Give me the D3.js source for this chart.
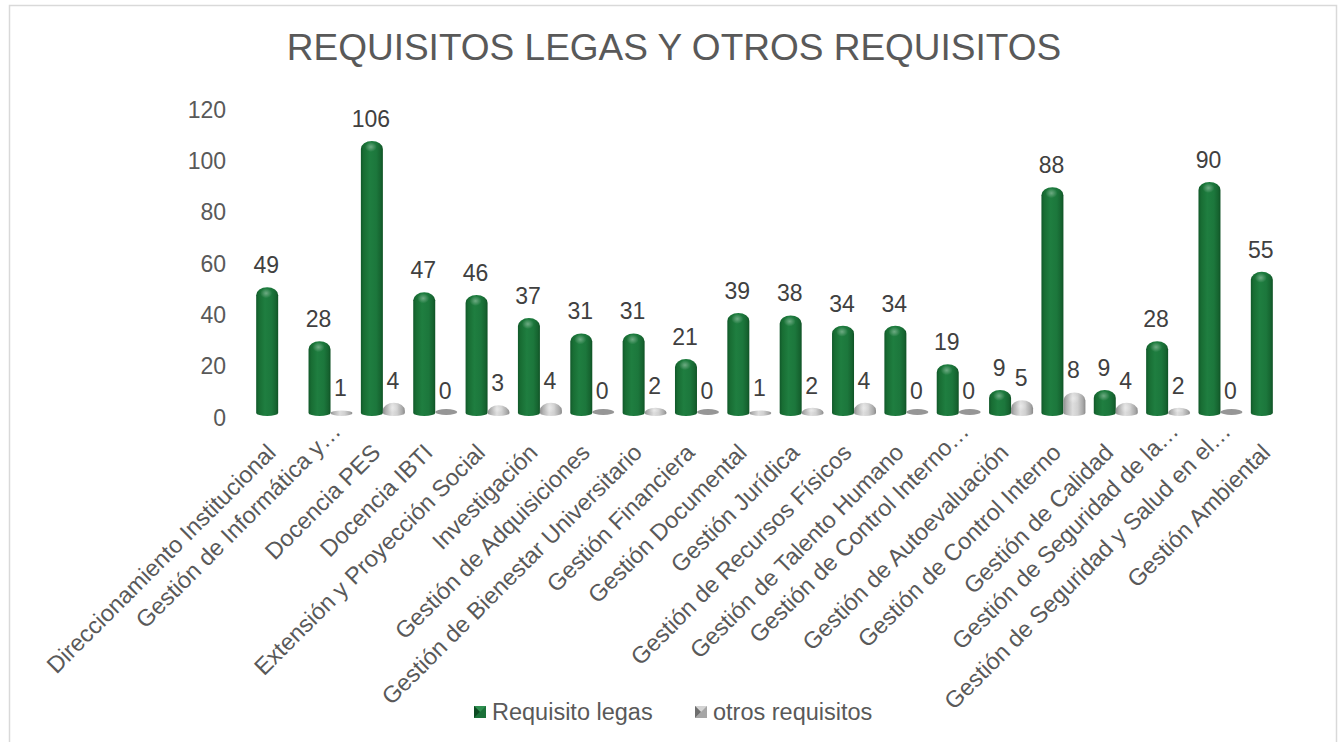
<!DOCTYPE html>
<html>
<head>
<meta charset="utf-8">
<script src="https://cdn.jsdelivr.net/npm/d3@7"></script>
<style>
  html, body { margin: 0; padding: 0; background: #ffffff; }
  svg { display: block; font-family: "Liberation Sans", Arial, sans-serif; }
</style>
</head>
<body>
<svg id="chart" width="1338" height="742"></svg>
<script>
const title = "REQUISITOS LEGAS Y OTROS REQUISITOS";
const categories = [
  "Direccionamiento Institucional",
  "Gestión de Informática y…",
  "Docencia PES",
  "Docencia IBTI",
  "Extensión y Proyección Social",
  "Investigación",
  "Gestión de Adquisiciones",
  "Gestión de Bienestar Universitario",
  "Gestión Financiera",
  "Gestión Documental",
  "Gestión Jurídica",
  "Gestión de Recursos Físicos",
  "Gestión de Talento Humano",
  "Gestión de Control Interno…",
  "Gestión de Autoevaluación",
  "Gestión de Control Interno",
  "Gestión de Calidad",
  "Gestión de Seguridad de la…",
  "Gestión de Seguridad y Salud en el…",
  "Gestión Ambiental"
];
const seriesNames = ["Requisito legas", "otros requisitos"];
const requisitoLegas = [49, 28, 106, 47, 46, 37, 31, 31, 21, 39, 38, 34, 34, 19, 9, 88, 9, 28, 90, 55];
const otrosRequisitos = [null, 1, 4, 0, 3, 4, 0, 2, 0, 1, 2, 4, 0, 0, 5, 8, 4, 2, 0, null];
const yTicks = [0, 20, 40, 60, 80, 100, 120];

const svg = d3.select("#chart");

// chart border
svg.append("rect")
  .attr("x", 9.5).attr("y", 5.5)
  .attr("width", 1327).attr("height", 760)
  .attr("fill", "#ffffff")
  .attr("stroke", "#d9d9d9").attr("stroke-width", 1.5);

// defs: gradients
const defs = svg.append("defs");
function hGrad(id, stops) {
  const g = defs.append("linearGradient").attr("id", id)
    .attr("x1", "0%").attr("x2", "100%").attr("y1", "0%").attr("y2", "0%");
  stops.forEach(s => g.append("stop").attr("offset", s[0]).attr("stop-color", s[1]));
}
hGrad("gGreen", [[0, "#11582a"], [0.12, "#186d33"], [0.4, "#1f7e40"], [0.7, "#1c773c"], [0.9, "#166430"], [1, "#0f5225"]]);
hGrad("gGrey", [[0, "#8e8e8e"], [0.15, "#b3b3b3"], [0.42, "#dedede"], [0.65, "#d0d0d0"], [0.88, "#a9a9a9"], [1, "#8a8a8a"]]);
const rg = defs.append("radialGradient").attr("id", "hl");
rg.append("stop").attr("offset", 0).attr("stop-color", "#ffffff").attr("stop-opacity", 0.35);
rg.append("stop").attr("offset", 1).attr("stop-color", "#ffffff").attr("stop-opacity", 0);

// scales
const x = d3.scaleBand().domain(categories).range([252, 1299]).padding(0);
const xs = d3.scaleBand().domain(seriesNames).range([0, x.bandwidth()]).paddingInner(0).paddingOuter(0.19);
const y = d3.scaleLinear().domain([0, 120]).range([413, 105]);

// title
svg.append("text")
  .attr("x", 674).attr("y", 60)
  .attr("text-anchor", "middle")
  .attr("font-size", 37)
  .attr("fill", "#595959")
  .text(title);

// y axis labels (no line)
const yAxis = d3.axisLeft(y).tickValues(yTicks).tickSize(0).tickPadding(0);
const yg = svg.append("g").attr("transform", "translate(226,0)").call(yAxis);
yg.select(".domain").remove();
yg.selectAll("text")
  .attr("font-size", 23)
  .attr("font-family", "Liberation Sans, Arial, sans-serif")
  .attr("fill", "#595959")
  .attr("dy", null)
  .attr("y", 12)
  .attr("x", 0)
  .attr("text-anchor", "end");

// bars
function cylPath(x0, w, v) {
  const yb = y(0), yt = y(v);
  const h = yb - yt;
  const rx = w / 2;
  const ry = Math.min(8, h);
  const br = 3;
  return `M${x0},${yb} L${x0},${yt + ry} A${rx},${ry} 0 0 1 ${x0 + w},${yt + ry} L${x0 + w},${yb} A${rx},${br} 0 0 1 ${x0},${yb} Z`;
}

const series = [
  { name: seriesNames[0], values: requisitoLegas, grad: "url(#gGreen)", flat: "#1a6e37" },
  { name: seriesNames[1], values: otrosRequisitos, grad: "url(#gGrey)", flat: "#969696" }
];

series.forEach(s => {
  const g = svg.append("g");
  categories.forEach((c, i) => {
    const v = s.values[i];
    if (v === null || v === undefined) return;
    const x0 = x(c) + xs(s.name);
    const w = xs.bandwidth();
    if (v === 0) {
      g.append("ellipse")
        .attr("cx", x0 + w / 2).attr("cy", y(0) - 1)
        .attr("rx", w / 2).attr("ry", 3)
        .attr("fill", s.flat);
    } else {
      g.append("path").attr("d", cylPath(x0, w, v)).attr("fill", s.grad);
      const h = y(0) - y(v);
      if (h > 4) {
        g.append("ellipse")
          .attr("cx", x0 + w / 2 - 1).attr("cy", y(v) + Math.min(6, h / 2))
          .attr("rx", 6).attr("ry", Math.min(5, h / 2))
          .attr("fill", "url(#hl)");
      }
    }
    g.append("text")
      .attr("x", x0 + w / 2 - 1)
      .attr("y", y(v) - 14)
      .attr("text-anchor", "middle")
      .attr("font-size", 23)
      .attr("fill", "#404040")
      .text(v);
  });
});

// category labels
const xg = svg.append("g");
categories.forEach(c => {
  const bc = x(c) + x.bandwidth() / 2;
  const truncated = c.endsWith("…");
  xg.append("text")
    .attr("transform", `translate(${bc - 13},${442}) rotate(-45)`)
    .attr("text-anchor", "end")
    .attr("x", truncated ? 24 : 0)
    .attr("y", truncated ? -6 : 0)
    .attr("dy", "0.72em")
    .attr("font-size", 23.5)
    .attr("fill", "#595959")
    .text(c);
});

// legend
const legend = [
  { name: seriesNames[0], x: 474, base: "#1b7139", light: "#2f8f50", dark: "#0d4a22" },
  { name: seriesNames[1], x: 695, base: "#a6a6a6", light: "#d4d4d4", dark: "#6e6e6e" }
];
legend.forEach(l => {
  const g = svg.append("g").attr("transform", `translate(${l.x},${706})`);
  const s = 12, c = s / 2;
  g.append("rect").attr("width", s).attr("height", s).attr("fill", l.base);
  g.append("path").attr("d", `M0,0 L${s},0 L${c},${c} Z`).attr("fill", l.light);
  g.append("path").attr("d", `M0,0 L${c},${c} L0,${s} Z`).attr("fill", l.dark);
  g.append("path").attr("d", `M0,${s} L${c},${c} L${s},${s} Z`).attr("fill", l.base);
  g.append("text")
    .attr("x", s + 6).attr("y", 14)
    .attr("font-size", 23.5)
    .attr("fill", "#595959")
    .text(l.name);
});
</script>
</body>
</html>
